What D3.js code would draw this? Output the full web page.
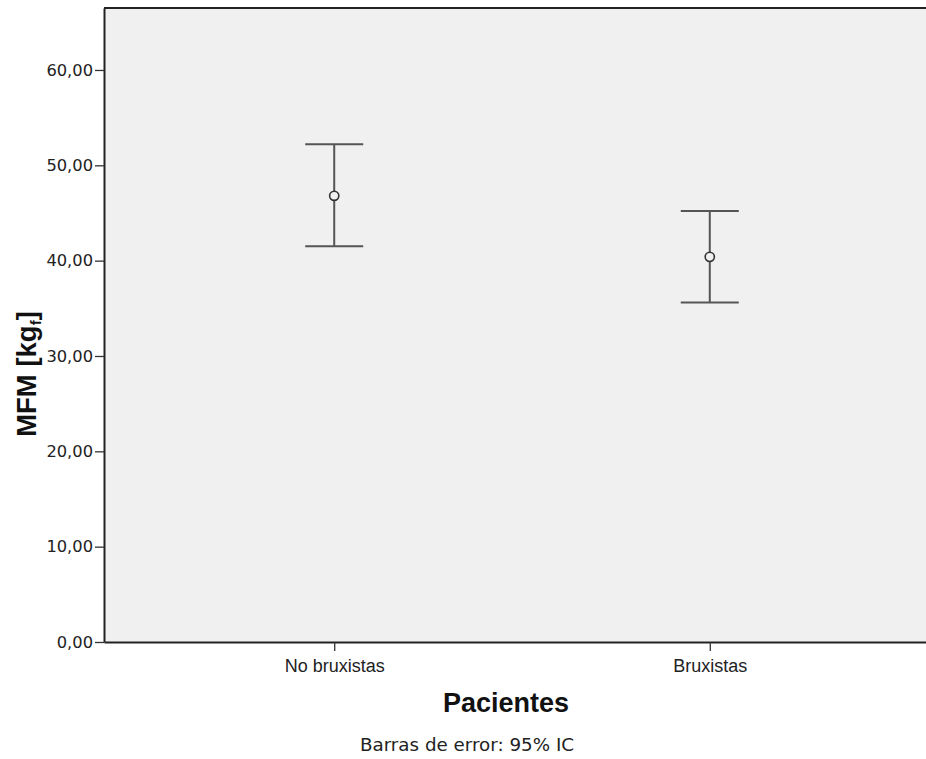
<!DOCTYPE html>
<html>
<head>
<meta charset="utf-8">
<script src="https://cdn.jsdelivr.net/npm/d3@7"></script>
<style>
  html, body { margin: 0; padding: 0; background: #fff; }
  svg { display: block; }
</style>
</head>
<body>
<div id="chart"></div>
<script>
// Data
const categories = ['No bruxistas', 'Bruxistas'];
const means = [46.8, 40.4];
const ciLower = [41.5, 35.6];
const ciUpper = [52.2, 45.2];
const yTicks = [0, 10, 20, 30, 40, 50, 60];

const width = 926, height = 759;
const margin = { top: 8, right: -14, bottom: 117, left: 104 };
const plotRight = width - margin.right;
const plotBottom = height - margin.bottom;

const svg = d3.select('#chart').append('svg')
  .attr('width', width)
  .attr('height', height);

const y = d3.scaleLinear().domain([0, 66.5]).range([plotBottom, margin.top]);
const x = d3.scalePoint().domain(categories)
  .range([margin.left, plotRight]).padding(0.613);

const fmt = d => d.toFixed(2).replace('.', ',');

// plot background
svg.append('rect')
  .attr('x', margin.left).attr('y', margin.top)
  .attr('width', plotRight - margin.left)
  .attr('height', plotBottom - margin.top)
  .attr('fill', '#f0f0f0');

// top border
svg.append('line')
  .attr('x1', margin.left).attr('x2', plotRight)
  .attr('y1', margin.top).attr('y2', margin.top)
  .attr('stroke', '#222').attr('stroke-width', 2);

// y axis
const yAxis = svg.append('g')
  .attr('transform', `translate(${margin.left},0)`)
  .call(d3.axisLeft(y).tickValues(yTicks).tickFormat(fmt).tickSize(9).tickSizeOuter(0));
yAxis.select('.domain').attr('stroke', '#222').attr('stroke-width', 2);
yAxis.selectAll('.tick line').attr('stroke', '#333').attr('stroke-width', 1.3);
yAxis.selectAll('.tick text')
  .attr('x', -11)
  .attr('fill', '#222')
  .style('font-family', '"DejaVu Sans", sans-serif')
  .style('font-size', '16.3px');

// x axis
const xAxis = svg.append('g')
  .attr('transform', `translate(0,${plotBottom})`)
  .call(d3.axisBottom(x).tickSize(9).tickSizeOuter(0).tickPadding(8));
xAxis.select('.domain').attr('stroke', '#222').attr('stroke-width', 2);
xAxis.selectAll('.tick line').attr('stroke', '#333').attr('stroke-width', 1.3);
xAxis.selectAll('.tick text')
  .attr('fill', '#222')
  .style('font-family', '"Liberation Sans", Arial, sans-serif')
  .style('font-size', '18px');

// error bars
const capHalf = 29;
const bars = svg.append('g').selectAll('g')
  .data(categories)
  .join('g');

bars.append('line')
  .attr('x1', d => x(d)).attr('x2', d => x(d))
  .attr('y1', (d, i) => y(ciLower[i])).attr('y2', (d, i) => y(ciUpper[i]))
  .attr('stroke', '#555').attr('stroke-width', 2);

bars.append('line')
  .attr('x1', d => x(d) - capHalf).attr('x2', d => x(d) + capHalf)
  .attr('y1', (d, i) => y(ciUpper[i])).attr('y2', (d, i) => y(ciUpper[i]))
  .attr('stroke', '#555').attr('stroke-width', 2);

bars.append('line')
  .attr('x1', d => x(d) - capHalf).attr('x2', d => x(d) + capHalf)
  .attr('y1', (d, i) => y(ciLower[i])).attr('y2', (d, i) => y(ciLower[i]))
  .attr('stroke', '#555').attr('stroke-width', 2);

bars.append('circle')
  .attr('cx', d => x(d))
  .attr('cy', (d, i) => y(means[i]))
  .attr('r', 4.6)
  .attr('fill', '#f0f0f0')
  .attr('stroke', '#333')
  .attr('stroke-width', 1.6);

// axis titles
svg.append('text')
  .attr('x', 506).attr('y', 712)
  .attr('text-anchor', 'middle')
  .style('font-family', '"Liberation Sans", Arial, sans-serif')
  .style('font-weight', 'bold')
  .style('font-size', '27px')
  .attr('fill', '#111')
  .text('Pacientes');

const yTitle = svg.append('text')
  .attr('transform', 'translate(36,374) rotate(-90)')
  .attr('text-anchor', 'middle')
  .style('font-family', '"Liberation Sans", Arial, sans-serif')
  .style('font-weight', 'bold')
  .style('font-size', '27.5px')
  .attr('fill', '#111');
yTitle.append('tspan').text('MFM [kg');
yTitle.append('tspan').attr('dy', 5).style('font-size', '15px').text('f');
yTitle.append('tspan').attr('dy', -5).text(']');

svg.append('text')
  .attr('x', 467).attr('y', 751)
  .attr('text-anchor', 'middle')
  .style('font-family', '"DejaVu Sans", sans-serif')
  .style('font-size', '18.3px')
  .attr('fill', '#222')
  .text('Barras de error: 95% IC');
</script>
</body>
</html>
